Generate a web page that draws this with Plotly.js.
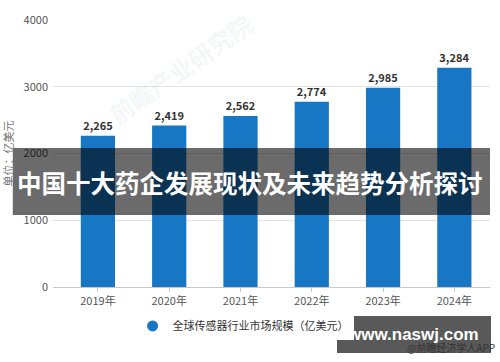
<!DOCTYPE html>
<html><head><meta charset="utf-8">
<script src="https://cdn.plot.ly/plotly-3.0.1.min.js"></script>
<style>html,body{margin:0;padding:0;background:#fff}#c{width:500px;height:362px}</style>
</head><body><div id="c"></div>
<script>
const years = ['2019年','2020年','2021年','2022年','2023年','2024年'];
const values = [2265, 2419, 2562, 2774, 2985, 3284];
const yTicks = [0, 1000, 2000, 3000, 4000];
const seriesName = '全球传感器行业市场规模（亿美元）';
const yTitle = '单位：亿美元';
const bannerText = '中国十大药企发展现状及未来趋势分析探讨';
const siteText = 'www.naswj.com';
const sourceText = '@前瞻经济学人APP';
const watermark = '前瞻产业研究院';

const F = '"Noto Sans CJK SC", "Noto Sans", sans-serif';
const blue = '#1877c5';

const traces = [
  {type:'bar', x: years, y: values, marker:{color: blue}, showlegend:false,
   texttemplate:'%{y:,}', textposition:'outside', cliponaxis:false,
   textfont:{family:F, size:11, color:'#333', weight:'bold'}, hoverinfo:'skip'},
  {type:'scatter', mode:'markers', x:[null], y:[null], name: seriesName,
   marker:{symbol:'circle', size:11, color: blue}, showlegend:true, hoverinfo:'skip'}
];

const layout = {
  width:500, height:362,
  margin:{l:53, r:10, t:20, b:75},
  paper_bgcolor:'#fff', plot_bgcolor:'#fff',
  font:{family:F, color:'#555'},
  bargap:0.52,
  xaxis:{type:'category', range:[-0.63, 5.5], showline:true, linecolor:'#c8c8c8', linewidth:1,
    ticks:'outside', ticklen:4, tickcolor:'#c8c8c8', tickfont:{family:F, size:11, color:'#555'},
    showgrid:false, fixedrange:true},
  yaxis:{range:[0, 4000], tickvals: yTicks, ticktext: yTicks.map(String), showgrid:true, gridcolor:'#e3e3e3',
    zeroline:false, showline:false, tickfont:{family:F, size:11, color:'#555'}, ticks:'', ticklabelstandoff:4,
    title:{text: yTitle, font:{family:F, size:11, color:'#777'}, standoff:8}},
  legend:{orientation:'h', x:0.435, xanchor:'center', y:-0.146, yanchor:'middle',
    font:{family:F, size:11, color:'#333'}, itemwidth:30},
  shapes:[
    {type:'rect', xref:'paper', yref:'paper', x0:-0.092, x1:1.0, y0:(287-148)/267, y1:(287-215)/267,
     fillcolor:'rgba(0,0,0,0.58)', line:{width:0}, layer:'above'},
    {type:'rect', xref:'paper', yref:'paper', x0:(337-53)/437, x1:(491-53)/437, y0:(287-316)/267, y1:(287-353)/267,
     fillcolor:'rgba(60,60,60,0.85)', line:{width:0}, layer:'above'}
  ],
  annotations:[
    {text: watermark, xref:'paper', yref:'paper', x:(180-53)/437, y:(287-68)/267, xanchor:'center', yanchor:'middle',
     showarrow:false, textangle:-35,
     font:{family:F, size:24, color:'rgba(190,198,208,0.16)', weight:'bold'}},
    {text: bannerText, xref:'paper', yref:'paper', x:(250-53)/437, y:(287-183)/267, xanchor:'center', yanchor:'middle',
     showarrow:false, font:{family:F, size:24.5, color:'#fff', weight:'bold'}},
    {text: siteText, xref:'paper', yref:'paper', x:(413-53)/437, y:(287-334)/267, xanchor:'center', yanchor:'middle',
     showarrow:false, font:{family:'"Liberation Sans", Arial, sans-serif', size:17, color:'#fff', weight:'bold'}},
    {text: sourceText, xref:'paper', yref:'paper', x:(497-53)/437, y:(287-348)/267, xanchor:'right', yanchor:'middle',
     showarrow:false, font:{family:F, size:10, color:'#333'}}
  ]
};
Plotly.newPlot('c', traces, layout, {displayModeBar:false, staticPlot:true});
</script></body></html>
